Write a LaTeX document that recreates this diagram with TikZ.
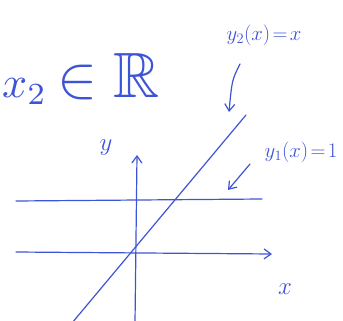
\documentclass[tikz,border=0pt]{standalone}
\usepackage{graphicx}
\usepackage{amssymb}
\usetikzlibrary{arrows.meta}
\definecolor{ink}{RGB}{62,84,214}
\begin{document}
\begin{tikzpicture}[x=1pt,y=-1pt,>={Straight Barb[length=7pt,width=10pt]}, line join=round, line cap=round,
	ink/.style={draw=ink,line width=1.2pt},
	lbl/.style={text=ink,inner sep=0pt}]
	\useasboundingbox (0,0) rectangle (343,321);
	\clip (0,0) rectangle (343,321);
	% axes
	\coordinate (xl) at (16,252); \coordinate (xr) at (272,254);
	\coordinate (yb) at (135,323); \coordinate (yt) at (137,155);
	\draw[ink,->] (xl) -- (xr);
	\draw[ink,->] (yb) -- (yt);
	\node[lbl,font=\fontsize{24}{28}\selectfont] (xlab) at (285,289) {$x$};
	\node[lbl,font=\fontsize{24}{28}\selectfont] (ylab) at (106,148) {$y$};
	% the two functions
	\coordinate (aL) at (16,201); \coordinate (aR) at (262,199);
	\draw[ink] (aL) -- (aR);
	\coordinate (bB) at (72,323); \coordinate (bT) at (246,115);
	\draw[ink] (bB) -- (bT);
	% labels with pointers
	\node[lbl,font=\fontsize{21}{25}\selectfont] (lone) at (301,152) {$y_1(x)\!=\!1$};
	\coordinate (pone) at (228,190);
	\draw[ink,->] (250,164) -- (pone);
	\node[lbl,font=\fontsize{22}{26}\selectfont] (ltwo) at (264,35) {$y_2(x)\!=\!x$};
	\coordinate (ptwo) at (229,112);
	\draw[ink,->] (240,64) .. controls (232,80) .. (ptwo);
	% set membership
	\node[lbl,anchor=base west] (memb) at (2,98)
		{\scalebox{4.4}{$x_2$}\hspace{10pt}\scalebox{6}{$\in$}\hspace{16pt}{\fontsize{64}{72}\selectfont$\mathbb{R}$}};
\end{tikzpicture}
\end{document}
